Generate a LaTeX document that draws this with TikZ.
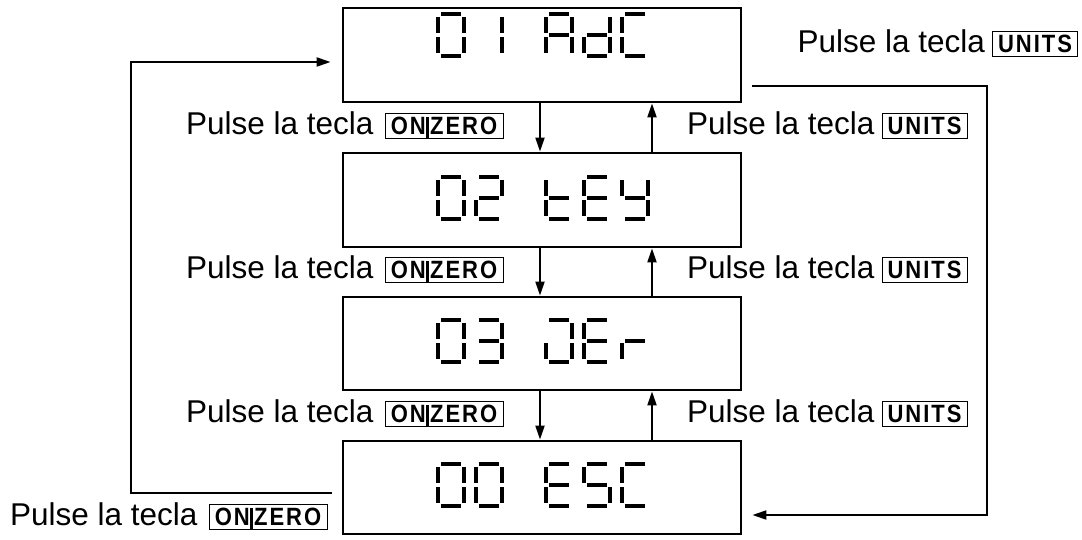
\documentclass[tikz,border=0pt]{standalone}
\usepackage{fontspec}
\setmainfont{Liberation Sans}
\newfontfamily\keyfam[FakeStretch=0.88,LetterSpace=8]{Liberation Sans}
\usetikzlibrary{arrows.meta}
\newcommand\labfont{\fontsize{31.5}{36}\selectfont}
\newcommand\keyfont{\keyfam\bfseries\fontsize{25}{26}\selectfont}
\newcommand\keybar{\hspace{0.3pt}\smash{\rule[-3.5pt]{2.8pt}{21.4pt}}\hspace{1.2pt}}
% seven-segment pieces, cell top-left at (#1,#2), 30 x 46
\newcommand\sgA[2]{\draw[segstroke] ({#1+5},{#2+2}) -- ({#1+25},{#2+2});}
\newcommand\sgB[2]{\draw[segstroke] ({#1+28},{#2+5}) -- ({#1+28},{#2+21});}
\newcommand\sgC[2]{\draw[segstroke] ({#1+28},{#2+25}) -- ({#1+28},{#2+41});}
\newcommand\sgD[2]{\draw[segstroke] ({#1+5},{#2+44}) -- ({#1+25},{#2+44});}
\newcommand\sgE[2]{\draw[segstroke] ({#1+2},{#2+25}) -- ({#1+2},{#2+41});}
\newcommand\sgF[2]{\draw[segstroke] ({#1+2},{#2+5}) -- ({#1+2},{#2+21});}
\newcommand\sgG[2]{\draw[segstroke] ({#1+5},{#2+23}) -- ({#1+25},{#2+23});}
\newcommand\segchar[3]{\foreach \s in {#3}{\csname sg\s\endcsname{#1}{#2}}}
\begin{document}
\begin{tikzpicture}[x=1pt,y=-1pt,
  disp/.style={draw, line width=2.8pt, inner sep=0pt, minimum width=398},
  conn/.style={line width=2pt},
  arr/.style={conn,-{Triangle[length=14pt,width=9pt]}},
  segstroke/.style={line width=3.8pt, line cap=butt},
  lab/.style={font=\labfont, inner sep=0pt},
  key/.style={draw, line width=0.8pt, font=\keyfont, inner xsep=0pt, inner ysep=3.5pt,
    text height=17.9pt, text depth=0pt},
  unitskey/.style={key, minimum width=85},
  zerokey/.style={key, minimum width=118}]
\fill[white] (0,0) rectangle (1082,540);
\useasboundingbox (0,0) rectangle (1082,540);

% display boxes
\node[disp, minimum height=94] (b1) at (542,55) {};
\node[disp, minimum height=94] (b2) at (542,200) {};
\node[disp, minimum height=93] (b3) at (542,343.5) {};
\node[disp, minimum height=93] (b4) at (542,487.5) {};

% box 1: 01 AdC
\segchar{436}{12}{A,B,C,D,E,F}
\segchar{474}{12}{B,C}
\segchar{544}{12}{A,B,C,E,F,G}
\segchar{582}{12}{B,C,D,E,G}
\segchar{620}{12}{A,D,E,F}
% box 2: 02 kEY
\segchar{436}{175}{A,B,C,D,E,F}
\segchar{474}{175}{A,B,G,E,D}
\segchar{544}{175}{F,E,G,D}
\segchar{582}{175}{A,D,E,F,G}
\segchar{620}{175}{B,C,D,F,G}
% box 3: 03 VEr
\segchar{436}{318}{A,B,C,D,E,F}
\segchar{474}{318}{A,B,C,D,G}
\segchar{544}{318}{A,B,C,D,E}
\segchar{582}{318}{A,D,E,F,G}
\segchar{620}{318}{E,G}
% box 4: 00 E5C
\segchar{436}{462}{A,B,C,D,E,F}
\segchar{474}{462}{A,B,C,D,E,F}
\segchar{544}{462}{A,D,E,F,G}
\segchar{582}{462}{A,F,G,C,D}
\segchar{620}{462}{A,D,E,F}

% arrows between boxes
\draw[arr] ([xshift=-2pt]b1.south) -- ([xshift=-2pt]b2.north);
\draw[arr] ([xshift=110pt]b2.north) -- ([xshift=110pt]b1.south);
\draw[arr] ([xshift=-2pt]b2.south) -- ([xshift=-2pt]b3.north);
\draw[arr] ([xshift=110pt]b3.north) -- ([xshift=110pt]b2.south);
\draw[arr] ([xshift=-2pt]b3.south) -- ([xshift=-2pt]b4.north);
\draw[arr] ([xshift=110pt]b4.north) -- ([xshift=110pt]b3.south);

% loops
\draw[arr] ([xshift=-10pt,yshift=-5.5pt]b4.west) -- ++(-201,0) |- ([xshift=-11pt,yshift=-7pt]b1.west);
\draw[arr] ([xshift=10pt,yshift=-31pt]b1.east) -- ++(235,0) |- ([xshift=10pt,yshift=-27.5pt]b4.east);

% labels
\node[unitskey] (k0) at (1035,44) {UNITS};
\node[lab, anchor=base east] (t0) at ([xshift=-7pt]k0.base west) {Pulse la tecla};

\node[zerokey] (k1l) at (444,126) {ON\keybar ZERO};
\node[lab, anchor=base east] (t1l) at ([xshift=-11pt]k1l.base west) {Pulse la tecla};
\node[unitskey] (k1r) at (924.5,126) {UNITS};
\node[lab, anchor=base east] (t1r) at ([xshift=-7pt]k1r.base west) {Pulse la tecla};

\node[zerokey] (k2l) at (444,270) {ON\keybar ZERO};
\node[lab, anchor=base east] (t2l) at ([xshift=-11pt]k2l.base west) {Pulse la tecla};
\node[unitskey] (k2r) at (924.5,270) {UNITS};
\node[lab, anchor=base east] (t2r) at ([xshift=-7pt]k2r.base west) {Pulse la tecla};

\node[zerokey] (k3l) at (444,414) {ON\keybar ZERO};
\node[lab, anchor=base east] (t3l) at ([xshift=-11pt]k3l.base west) {Pulse la tecla};
\node[unitskey] (k3r) at (924.5,414) {UNITS};
\node[lab, anchor=base east] (t3r) at ([xshift=-7pt]k3r.base west) {Pulse la tecla};

\node[zerokey] (kb) at (268,517) {ON\keybar ZERO};
\node[lab, anchor=base east] (tb) at ([xshift=-11pt]kb.base west) {Pulse la tecla};
\end{tikzpicture}
\end{document}
